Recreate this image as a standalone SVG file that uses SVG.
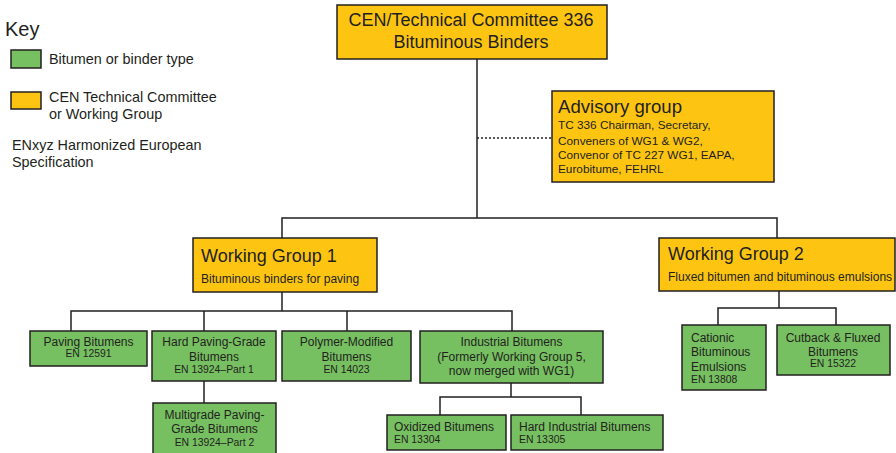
<svg xmlns="http://www.w3.org/2000/svg" width="896" height="453" viewBox="0 0 896 453">
<style>
text{font-family:"Liberation Sans",Arial,sans-serif;fill:#231f20}
.y{fill:#fdc512;stroke:#231f20;stroke-width:1.5}
.g{fill:#76c061;stroke:#231f20;stroke-width:1.5}
.c{fill:none;stroke:#231f20;stroke-width:1.5}
.d{fill:none;stroke:#231f20;stroke-width:1.5;stroke-dasharray:2 2}
.t18{font-size:18px}
.t14{font-size:14.4px}
.t12{font-size:12px}
.t11{font-size:11.8px}
.en{font-size:10.4px}
.m{text-anchor:middle}
</style>
<rect width="896" height="453" fill="#fff"/>

<g id="key">
<text x="5" y="36" font-size="20">Key</text>
<rect class="g" x="11" y="50" width="30" height="18"/>
<text class="t14" x="49" y="64">Bitumen or binder type</text>
<rect class="y" x="11" y="92" width="30" height="17"/>
<text class="t14" x="49" y="102">CEN Technical Committee</text>
<text class="t14" x="49" y="119">or Working Group</text>
<text class="t14" x="12" y="150">ENxyz Harmonized European</text>
<text class="t14" x="12" y="167">Specification</text>
</g>

<g id="connectors">
<line class="c" x1="477" y1="59" x2="477" y2="218"/>
<line class="d" x1="477" y1="138" x2="552" y2="138"/>
<polyline class="c" points="282,238 282,218 777,218 777,238"/>
<line class="c" x1="282" y1="292" x2="282" y2="311"/>
<polyline class="c" points="71,331 71,311 512,311 512,331"/>
<line class="c" x1="204" y1="311" x2="204" y2="331"/>
<line class="c" x1="347" y1="311" x2="347" y2="331"/>
<line class="c" x1="204" y1="381" x2="204" y2="403"/>
<line class="c" x1="511" y1="383" x2="511" y2="397"/>
<polyline class="c" points="440,415 440,397 581,397 581,415"/>
<line class="c" x1="779" y1="291" x2="779" y2="308"/>
<polyline class="c" points="718,325 718,308 836,308 836,325"/>
</g>

<g id="tc336">
<rect class="y" x="337" y="5" width="270" height="54"/>
<text class="t18 m" x="471" y="26">CEN/Technical Committee 336</text>
<text class="t18 m" x="471" y="48">Bituminous Binders</text>
</g>

<g id="advisory">
<rect class="y" x="552" y="91" width="222" height="91"/>
<text x="558" y="113" font-size="18.6">Advisory group</text>
<text class="t11" x="558" y="129">TC 336 Chairman, Secretary,</text>
<text class="t11" x="558" y="145">Conveners of WG1 &amp; WG2,</text>
<text class="t11" x="558" y="159">Convenor of TC 227 WG1, EAPA,</text>
<text class="t11" x="558" y="173">Eurobitume, FEHRL</text>
</g>

<g id="wg1">
<rect class="y" x="193" y="238" width="184" height="54"/>
<text class="t18" x="201" y="262">Working Group 1</text>
<text class="t12" x="201" y="283">Bituminous binders for paving</text>
</g>

<g id="wg2">
<rect class="y" x="659" y="238" width="236" height="53"/>
<text class="t18" x="668" y="260">Working Group 2</text>
<text class="t12" x="668" y="281">Fluxed bitumen and bituminous emulsions</text>
</g>

<g id="paving">
<rect class="g" x="30" y="331" width="117" height="35"/>
<text class="t12 m" x="88.5" y="346">Paving Bitumens</text>
<text class="en m" x="88.5" y="357">EN 12591</text>
</g>

<g id="hardpaving">
<rect class="g" x="152" y="331" width="124" height="50"/>
<text class="t12 m" x="214" y="346">Hard Paving-Grade</text>
<text class="t12 m" x="214" y="361">Bitumens</text>
<text class="en m" x="214" y="373">EN 13924–Part 1</text>
</g>

<g id="multigrade">
<rect class="g" x="153" y="403" width="123" height="55"/>
<text class="t12 m" x="214.5" y="419">Multigrade Paving-</text>
<text class="t12 m" x="214.5" y="433">Grade Bitumens</text>
<text class="en m" x="214.5" y="446">EN 13924–Part 2</text>
</g>

<g id="polymer">
<rect class="g" x="282" y="331" width="129" height="50"/>
<text class="t12 m" x="346.5" y="346">Polymer-Modified</text>
<text class="t12 m" x="346.5" y="361">Bitumens</text>
<text class="en m" x="346.5" y="373">EN 14023</text>
</g>

<g id="industrial">
<rect class="g" x="420" y="331" width="183" height="52"/>
<text class="t12 m" x="511.5" y="346">Industrial Bitumens</text>
<text class="t12 m" x="511.5" y="361">(Formerly Working Group 5,</text>
<text class="t12 m" x="511.5" y="375">now merged with WG1)</text>
</g>

<g id="oxidized">
<rect class="g" x="387" y="415" width="119" height="35"/>
<text class="t12" x="394" y="431">Oxidized Bitumens</text>
<text class="en" x="394" y="443">EN 13304</text>
</g>

<g id="hardindustrial">
<rect class="g" x="511" y="415" width="152" height="35"/>
<text class="t12" x="519" y="431">Hard Industrial Bitumens</text>
<text class="en" x="519" y="443">EN 13305</text>
</g>

<g id="cationic">
<rect class="g" x="682" y="325" width="84" height="65"/>
<text class="t12" x="691" y="342">Cationic</text>
<text class="t12" x="691" y="356">Bituminous</text>
<text class="t12" x="691" y="371">Emulsions</text>
<text class="en" x="691" y="383">EN 13808</text>
</g>

<g id="cutback">
<rect class="g" x="777" y="325" width="113" height="50"/>
<text class="t12 m" x="833" y="342">Cutback &amp; Fluxed</text>
<text class="t12 m" x="833" y="356">Bitumens</text>
<text class="en m" x="833" y="367">EN 15322</text>
</g>
</svg>
